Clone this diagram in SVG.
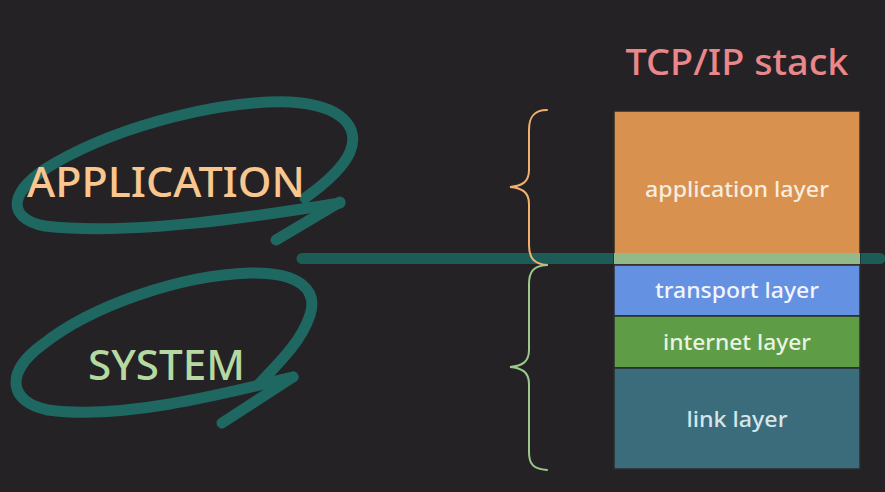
<svg xmlns="http://www.w3.org/2000/svg" width="885" height="492" viewBox="0 0 885 492">
<style>
.loop{fill:none;stroke:#1f6761;stroke-width:11;stroke-linecap:round;stroke-linejoin:round}
.big{font-family:"Noto Sans","Open Sans",sans-serif;font-size:41px;font-weight:500}
.lbl{font-family:"Noto Sans","Open Sans",sans-serif;font-size:22.5px;font-weight:500;text-anchor:middle}
.brace{fill:none;stroke-width:2;stroke-linecap:round}
.box{stroke:#2b2b2b;stroke-width:1.5}
</style>
<rect width="885" height="492" fill="#242225"/>
<g id="title"><text x="737" y="75" font-family="Noto Sans, Open Sans, sans-serif" font-size="36" font-weight="500" fill="#e9878b" text-anchor="middle" textLength="223" lengthAdjust="spacingAndGlyphs">TCP/IP stack</text></g>
<g id="application-loop">
<path class="loop" d="M 340,203 C 260,216 130,236 45,226 C 5,218 8,190 55,163 C 125,123 225,100 290,102 C 343,105 360,128 350,152 C 342,170 322,186 305,198"/>
<path class="loop" d="M 340,202 L 276,240"/>
<text class="big" x="27" y="197" textLength="278" lengthAdjust="spacingAndGlyphs" fill="#f8c68e">APPLICATION</text>
</g>
<g id="system-loop">
<path class="loop" d="M 293,377 C 220,395 120,420 48,410 C 8,402 5,372 42,345 C 92,305 182,275 250,273 C 300,272 318,290 310,315 C 302,340 282,360 258,385"/>
<path class="loop" d="M 293,377 L 222,423"/>
<text class="big" x="88" y="380" textLength="157" lengthAdjust="spacingAndGlyphs" fill="#b5d9a0">SYSTEM</text>
</g>
<g id="connectors">
<line x1="302" y1="258.5" x2="880" y2="258.5" stroke="#1d5b57" stroke-width="11" stroke-linecap="round"/>
</g>
<g id="application-layer">
<rect class="box" x="614" y="111" width="246" height="154" fill="#d8914f"/>
<rect x="614" y="253" width="246" height="11" fill="#93b98a"/>
<text class="lbl" x="737" y="197" fill="#f7ecdd" textLength="184" lengthAdjust="spacingAndGlyphs">application layer</text>
</g>
<g id="transport-layer">
<rect class="box" x="614" y="265" width="246" height="51" fill="#6591e3"/>
<text class="lbl" x="737" y="298" fill="#f2f5fc" textLength="164" lengthAdjust="spacingAndGlyphs">transport layer</text>
</g>
<g id="internet-layer">
<rect class="box" x="614" y="316" width="246" height="52" fill="#5e9d45"/>
<text class="lbl" x="737" y="350" fill="#eaf3e3" textLength="148" lengthAdjust="spacingAndGlyphs">internet layer</text>
</g>
<g id="link-layer">
<rect class="box" x="614" y="368" width="246" height="101" fill="#3b6c7b"/>
<text class="lbl" x="737" y="427" fill="#d4e6ea" textLength="101" lengthAdjust="spacingAndGlyphs">link layer</text>
</g>
<g id="app-brace">
<path class="brace" stroke="#f1b070" d="M 547,110 C 533,110 529,118 529,130 L 529,170 C 529,182 522,186 510,187 C 522,188 529,192 529,204 L 529,245 C 529,257 533,264 547,265"/>
</g>
<g id="system-brace">
<path class="brace" stroke="#9bc98b" d="M 547,265 C 533,266 529,272 529,284 L 529,350 C 529,362 522,366 510,367 C 522,368 529,372 529,384 L 529,452 C 529,464 533,469 547,470"/>
</g>
</svg>
